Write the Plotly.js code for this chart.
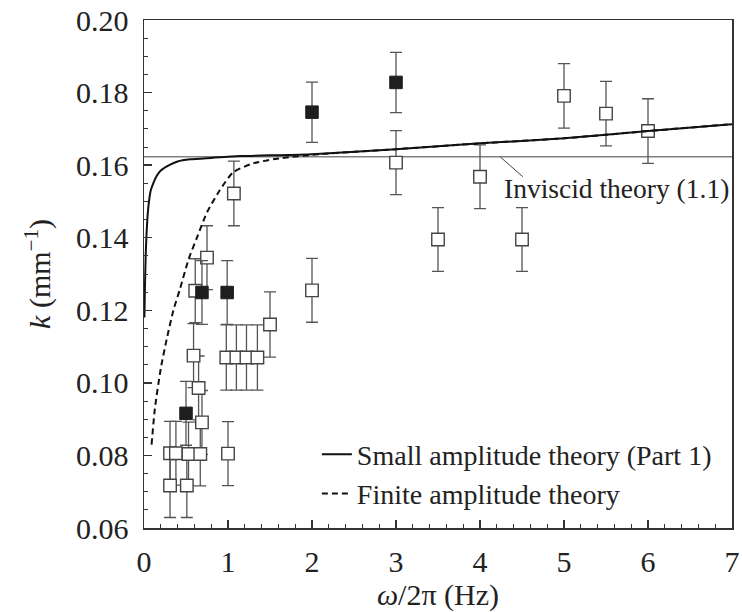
<!DOCTYPE html>
<html>
<head>
<meta charset="utf-8">
<script src="https://cdn.plot.ly/plotly-3.0.1.min.js"></script>
<style>html,body{margin:0;padding:0;background:#fff;}#chart{width:742px;height:612px;}</style>
</head>
<body>
<div id="chart"></div>
<script>
// Open squares (experiment)
var openX = [0.31, 0.51, 0.31, 0.38, 0.53, 0.67, 1.0, 0.69, 0.65, 0.59, 0.98, 1.1, 1.22, 1.35, 1.5, 0.61, 0.75, 1.07, 2.0, 3.0, 3.5, 4.0, 4.5, 5.0, 5.5, 6.0];
var openY = [0.0717, 0.0717, 0.0806, 0.0806, 0.0804, 0.0804, 0.0805, 0.0891, 0.0986, 0.1075, 0.107, 0.107, 0.107, 0.107, 0.1161, 0.1254, 0.1345, 0.1522, 0.1255, 0.1607, 0.1395, 0.1568, 0.1395, 0.1791, 0.1742, 0.1694];
var openErr = [0.0088, 0.0088, 0.0088, 0.0088, 0.0088, 0.0088, 0.0088, 0.0088, 0.0088, 0.0088, 0.009, 0.009, 0.009, 0.009, 0.009, 0.0088, 0.0088, 0.0089, 0.0088, 0.0088, 0.0088, 0.0088, 0.0088, 0.0089, 0.0089, 0.0089];
// Filled squares (experiment)
var fillX = [0.5, 0.69, 0.99, 2.0, 3.0];
var fillY = [0.0916, 0.1249, 0.1249, 0.1746, 0.1828];
var fillErr = [0.0088, 0.0088, 0.0088, 0.0083, 0.0083];
// Small amplitude theory (Part 1)
var smallX = [0.005, 0.01, 0.02, 0.03, 0.05, 0.08, 0.11, 0.15, 0.2, 0.3, 0.4, 0.55, 0.8, 1.14, 1.5, 2.0, 3.0, 4.0, 5.0, 6.0, 7.0];
var smallY = [0.118, 0.125, 0.135, 0.141, 0.148, 0.153, 0.155, 0.157, 0.1585, 0.160, 0.161, 0.1616, 0.162, 0.1625, 0.1627, 0.1630, 0.1644, 0.1660, 0.1674, 0.1694, 0.1713];
// Finite amplitude theory
var finiteX = [0.09, 0.13, 0.2, 0.27, 0.35, 0.43, 0.53, 0.63, 0.75, 0.9, 1.06, 1.3, 1.62, 2.13, 3.0, 4.0, 5.0, 6.0, 7.0];
var finiteY = [0.083, 0.093, 0.104, 0.112, 0.120, 0.126, 0.134, 0.140, 0.147, 0.153, 0.158, 0.1605, 0.1619, 0.1631, 0.1644, 0.1660, 0.1674, 0.1694, 0.1713];
// Inviscid theory (1.1)
var invX = [0, 7];
var invY = [0.1623, 0.1623];
var xTicks = [0, 1, 2, 3, 4, 5, 6, 7];
var yTicks = [0.06, 0.08, 0.10, 0.12, 0.14, 0.16, 0.18, 0.20];

var FONT = '"Liberation Serif", "Times New Roman", Times, serif';
var txt = '#222';

var traces = [
  {x: invX, y: invY, mode: 'lines', line: {color: '#808080', width: 1.5}, showlegend: false, hoverinfo: 'skip'},
  {x: openX, y: openY, mode: 'markers', showlegend: false,
   marker: {symbol: 'square', size: 12.5, color: '#fff', line: {color: '#444', width: 1.4}},
   error_y: {type: 'data', array: openErr, visible: true, color: '#555', thickness: 1.3, width: 6}},
  {x: fillX, y: fillY, mode: 'markers', showlegend: false,
   marker: {symbol: 'square', size: 12.5, color: '#1e1e1e', line: {color: '#1e1e1e', width: 1}},
   error_y: {type: 'data', array: fillErr, visible: true, color: '#555', thickness: 1.3, width: 6}},
  {x: smallX, y: smallY, mode: 'lines', name: 'Small amplitude theory (Part 1)', line: {color: '#111', width: 2, shape: 'spline', smoothing: 0.6}},
  {x: finiteX, y: finiteY, mode: 'lines', name: 'Finite amplitude theory', line: {color: '#111', width: 2, dash: '6px,4px', shape: 'spline', smoothing: 0.6}}
];

var layout = {
  width: 742, height: 612,
  margin: {l: 144, r: 10, t: 20, b: 84},
  paper_bgcolor: '#fff', plot_bgcolor: '#fff',
  font: {family: FONT, color: txt, size: 26},
  showlegend: true,
  legend: {x: 0.294, y: 0.194, xanchor: 'left', yanchor: 'top', bgcolor: 'rgba(0,0,0,0)',
           font: {family: FONT, size: 28, color: txt}, itemwidth: 30, tracegroupgap: 0},
  xaxis: {range: [0, 7], tickvals: xTicks, ticktext: xTicks.map(String),
          showgrid: false, zeroline: false, showline: true, mirror: true, linecolor: '#333', linewidth: 1.5,
          ticks: 'inside', ticklen: 8, tickwidth: 1.3, tickcolor: '#333',
          minor: {dtick: 0.2, ticks: 'inside', ticklen: 4, tickwidth: 1, tickcolor: '#333'},
          tickfont: {family: FONT, size: 30, color: txt}, ticklabelstandoff: 6,
          title: {text: '<i>ω</i>/2π (Hz)', font: {family: FONT, size: 30, color: txt}, standoff: 8}},
  yaxis: {range: [0.06, 0.20], tickvals: yTicks, ticktext: yTicks.map(function(v){return v.toFixed(2);}),
          showgrid: false, zeroline: false, showline: true, mirror: true, linecolor: '#333', linewidth: 1.5,
          ticks: 'inside', ticklen: 8, tickwidth: 1.3, tickcolor: '#333',
          minor: {dtick: 0.005, ticks: 'inside', ticklen: 4, tickwidth: 1, tickcolor: '#333'},
          tickfont: {family: FONT, size: 30, color: txt}, ticklabelstandoff: 8,
          title: {text: '<i>k</i> (mm<sup>−1</sup>)', font: {family: FONT, size: 30, color: txt}, standoff: 16}},
  shapes: [
    {type: 'line', xref: 'x', yref: 'y', x0: 4.24, y0: 0.1623, x1: 4.51, y1: 0.1568,
     line: {color: '#444', width: 1}}
  ],
  annotations: [
    {x: 4.262, y: 0.1535, xref: 'x', yref: 'y', xanchor: 'left', yanchor: 'middle', showarrow: false,
     text: 'Inviscid theory (1.1)', font: {family: FONT, size: 27.5, color: txt}}
  ]
};

Plotly.newPlot('chart', traces, layout, {displayModeBar: false, staticPlot: true});
</script>
</body>
</html>
